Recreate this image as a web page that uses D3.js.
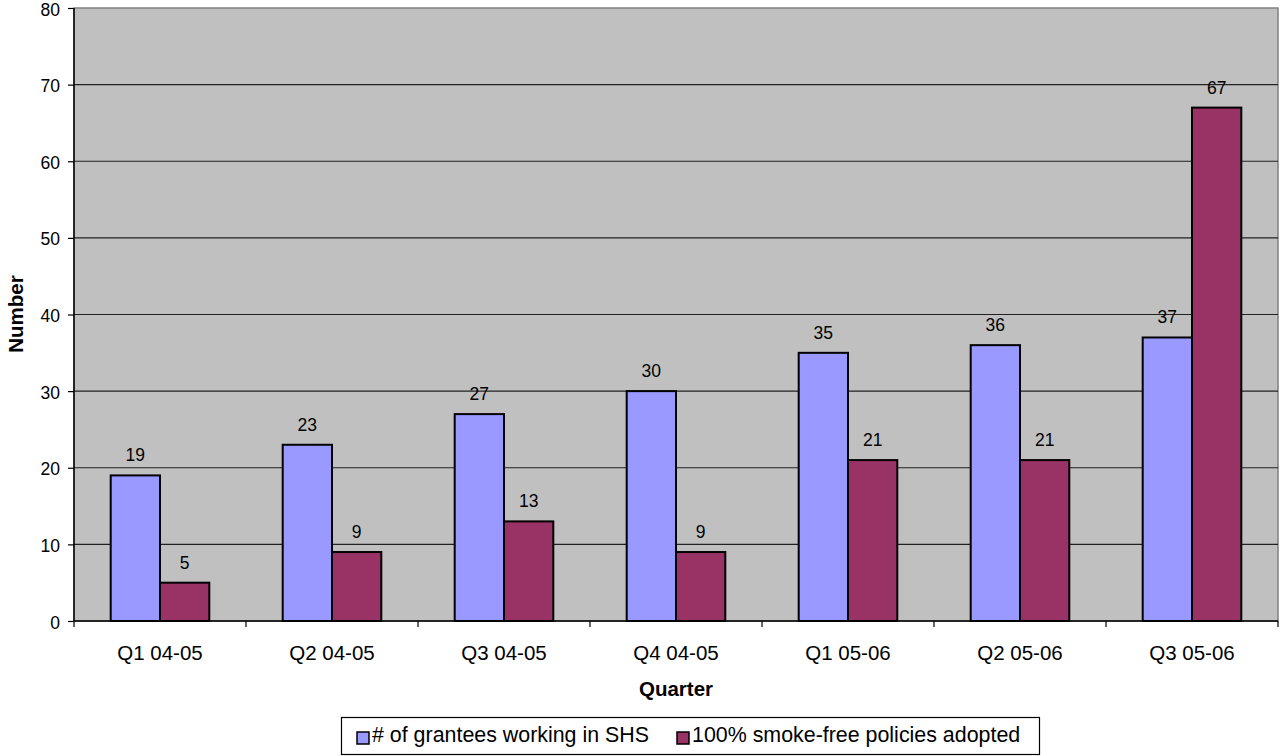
<!DOCTYPE html>
<html><head><meta charset="utf-8">
<script src="https://cdn.jsdelivr.net/npm/d3@7"></script>
<style>body{margin:0;background:#fff;}svg{display:block;font-family:Arial,"Liberation Sans",sans-serif;}</style>
</head><body><svg id="c" width="1281" height="756"></svg>
<script>
const categories = ["Q1 04-05","Q2 04-05","Q3 04-05","Q4 04-05","Q1 05-06","Q2 05-06","Q3 05-06"];
const grantees = [19,23,27,30,35,36,37];
const policies = [5,9,13,9,21,21,67];
const seriesNames = ["# of grantees working in SHS","100% smoke-free policies adopted"];
const colors = ["#9999FF","#993366"];
const yTicks = [0,10,20,30,40,50,60,70,80];

const FF = "Arial,'Liberation Sans',sans-serif";
const svg = d3.select("#c");
const L=74,R=1278,T=8,B=621;
const x = d3.scaleBand().domain(categories).range([L,R]).paddingInner(0).paddingOuter(0);
const y = d3.scaleLinear().domain([0,80]).range([B,T]);
const groupW = x.bandwidth()*98.6/172;
const xs = d3.scaleBand().domain([0,1]).range([0,groupW]);

svg.append("rect").attr("x",L).attr("y",T).attr("width",R-L).attr("height",B-T).attr("fill","#C0C0C0").attr("stroke","#808080").attr("stroke-width",1.5);

svg.append("g").selectAll("line").data(yTicks.slice(1,-1)).join("line")
 .attr("x1",L).attr("x2",R).attr("y1",d=>y(d)).attr("y2",d=>y(d)).attr("stroke","#222").attr("stroke-width",1.2);

const data = categories.map((c,i)=>({c,vals:[grantees[i],policies[i]]}));
const g = svg.append("g");
data.forEach(d=>{
  const x0 = x(d.c)+(x.bandwidth()-groupW)/2;
  d.vals.forEach((v,j)=>{
    g.append("rect").attr("x",x0+xs(j)).attr("y",y(v)).attr("width",xs.bandwidth()).attr("height",B-y(v))
     .attr("fill",colors[j]).attr("stroke","#000").attr("stroke-width",2);
    g.append("text").attr("x",x0+xs(j)+xs.bandwidth()/2).attr("y",y(v)-14).attr("text-anchor","middle")
     .attr("font-size",17.5).text(v);
  });
});

// axes
const ya = svg.append("g").attr("transform",`translate(${L},0)`).call(d3.axisLeft(y).tickValues(yTicks).tickSize(6).tickPadding(8));
ya.select(".domain").remove();
ya.selectAll("text").attr("font-size",17.5).attr("font-family",FF).attr("fill","#000").attr("dy","0.4em");
ya.selectAll("line").attr("stroke","#000").attr("stroke-width",1.2);
svg.append("line").attr("x1",L).attr("x2",L).attr("y1",T).attr("y2",B).attr("stroke","#000").attr("stroke-width",1.5);

const xa = svg.append("g").attr("transform",`translate(0,${B})`).call(d3.axisBottom(x).tickSize(0).tickPadding(0));
xa.select(".domain").remove();
xa.selectAll("text").attr("font-size",20.5).attr("font-family",FF).attr("fill","#000").attr("dy",null).attr("y",39);
svg.append("line").attr("x1",L).attr("x2",R).attr("y1",B).attr("y2",B).attr("stroke","#000").attr("stroke-width",1.5);
svg.append("g").selectAll("line").data(d3.range(categories.length+1)).join("line")
 .attr("x1",i=>L+i*x.bandwidth()).attr("x2",i=>L+i*x.bandwidth()).attr("y1",B).attr("y2",B+6).attr("stroke","#000").attr("stroke-width",1.2);

svg.append("text").attr("x",(L+R)/2).attr("y",696).attr("text-anchor","middle").attr("font-size",20.5).attr("font-weight","bold").text("Quarter");
svg.append("text").attr("transform","translate(23,314) rotate(-90)").attr("text-anchor","middle").attr("font-size",20.5).attr("font-weight","bold").text("Number");

// legend
const lg = svg.append("g");
lg.append("rect").attr("x",341.5).attr("y",717.5).attr("width",698).attr("height",37).attr("fill","#fff").attr("stroke","#000").attr("stroke-width",1.2);
const items = [{x:357,tx:372},{x:677,tx:692}];
items.forEach((it,j)=>{
  lg.append("rect").attr("x",it.x).attr("y",732).attr("width",12).attr("height",12).attr("fill",colors[j]).attr("stroke","#000").attr("stroke-width",1.5);
  lg.append("text").attr("x",it.tx).attr("y",742).attr("font-size",21.4).text(seriesNames[j]);
});
</script></body></html>
